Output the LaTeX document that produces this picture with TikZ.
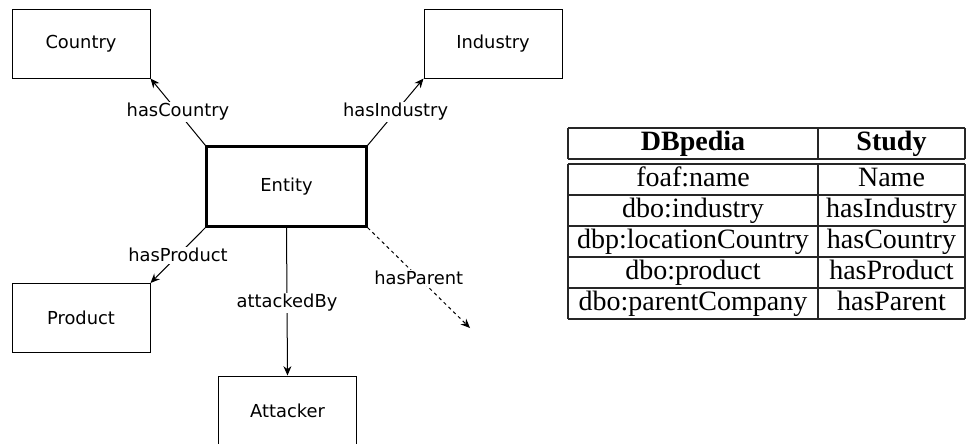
\documentclass[tikz,border=0pt]{standalone}
\usepackage{fontspec}
\setmainfont{Liberation Serif}
\newfontfamily\diafont{DejaVu Sans}
\usetikzlibrary{arrows.meta}
\tikzset{
  box/.style={draw=black, line width=0.75pt, fill=white, font=\diafont\fontsize{13.4pt}{16pt}\selectfont, inner sep=0pt},
  small/.style={box, minimum width=103.5pt, minimum height=51.75pt},
  mainbox/.style={box, line width=1.6pt, minimum width=120pt, minimum height=60pt},
  rel/.style={line width=0.75pt, -{Stealth[length=7pt,width=6pt]}},
  dashrel/.style={rel, dash pattern=on 2.5pt off 2.5pt},
  lab/.style={fill=white, font=\diafont\fontsize{13.4pt}{16pt}\selectfont, inner sep=1pt},
  tline/.style={line width=0.8pt, draw=black!85},
  tcell/.style={font=\fontsize{21pt}{25pt}\selectfont, inner sep=0pt, text height=14.5pt, text depth=4.5pt},
  thead/.style={tcell, font=\bfseries\fontsize{21pt}{25pt}\selectfont}
}
\begin{document}
\begin{tikzpicture}[x=0.75pt, y=-0.75pt]
\useasboundingbox (0,0) rectangle (966,443);
\clip (0,0) rectangle (966,443);
% diagram nodes
\node[small] (country) at (81,43.5) {Country};
\node[small] (industry) at (493,43.5) {Industry};
\node[mainbox] (entity) at (286.5,186.5) {Entity};
\node[small] (product) at (81,318) {Product};
\node[small] (attacker) at (287.5,410.5) {Attacker};
\coordinate (parentend) at (470,328);
% connectors
\draw[rel] (entity.north west) -- node[lab] {hasCountry} (country.south east);
\draw[rel] (entity.north east) -- node[lab] {hasIndustry} (industry.south west);
\draw[rel] (entity.south west) -- node[lab] {hasProduct} (product.north east);
\draw[rel] (entity.south) -- node[lab, pos=0.51] {attackedBy} (attacker.north);
\draw[dashrel] (entity.south east) -- node[lab, pos=0.5] {hasParent} (parentend);
% table rules
\draw[tline] (568,128) -- (965,128);
\draw[tline] (568,159) -- (965,159);
\draw[tline] (568,164) -- (965,164);
\draw[tline] (568,195) -- (965,195);
\draw[tline] (568,226) -- (965,226);
\draw[tline] (568,257) -- (965,257);
\draw[tline] (568,288) -- (965,288);
\draw[tline] (568,319) -- (965,319);
\draw[tline] (568,128) -- (568,159);
\draw[tline] (818,128) -- (818,159);
\draw[tline] (965,128) -- (965,159);
\draw[tline] (568,164) -- (568,319);
\draw[tline] (818,164) -- (818,319);
\draw[tline] (965,164) -- (965,319);
% table text
\node[thead] (h1) at (693,143.5) {DBpedia};
\node[thead] (h2) at (891.5,143.5) {Study};
\node[tcell] (a1) at (693,179.5) {foaf:name};
\node[tcell] (b1) at (891.5,179.5) {Name};
\node[tcell] (a2) at (693,210.5) {dbo:industry};
\node[tcell] (b2) at (891.5,210.5) {hasIndustry};
\node[tcell] (a3) at (693,241.5) {dbp:locationCountry};
\node[tcell] (b3) at (891.5,241.5) {hasCountry};
\node[tcell] (a4) at (693,272.5) {dbo:product};
\node[tcell] (b4) at (891.5,272.5) {hasProduct};
\node[tcell] (a5) at (693,303.5) {dbo:parentCompany};
\node[tcell] (b5) at (891.5,303.5) {hasParent};
\end{tikzpicture}
\end{document}
